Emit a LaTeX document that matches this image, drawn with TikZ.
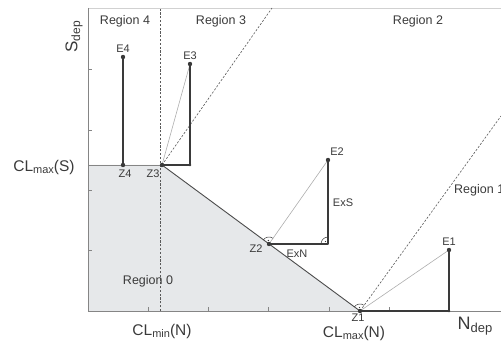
\documentclass[tikz,border=0pt]{standalone}
\usepackage{fontspec}
\setmainfont{Liberation Sans}
\definecolor{txt}{HTML}{3A3A3A}
\definecolor{fillg}{HTML}{E6E8EA}
\definecolor{thinc}{HTML}{ADADAD}
\definecolor{axisc}{HTML}{858585}
\newcommand{\lsub}[2]{\raisebox{-0.3ex}{\fontsize{#1}{#1}\selectfont #2}}
\begin{document}
\begin{tikzpicture}[x=1pt,y=1pt,
  lbl/.style={text=txt, inner sep=0pt, font=\fontsize{11}{11}\selectfont},
  reg/.style={text=txt, inner sep=0pt, font=\fontsize{12.5}{12.5}\selectfont},
  big/.style={text=txt, inner sep=0pt, font=\fontsize{15.5}{15.5}\selectfont},
  vec/.style={draw=txt, line width=1.4pt, line cap=round, line join=round},
  proj/.style={draw=thinc, line width=0.6pt},
  bound/.style={draw=black!65, dash pattern=on 2.2pt off 1.6pt, line width=0.6pt},
  ramark/.style={draw=txt, line width=0.5pt}]
\useasboundingbox (0,0) rectangle (501,347);
% coordinates
\coordinate (O) at (88,36);
\coordinate (Ytop) at (88,339);
\coordinate (Xend) at (501,36);
\coordinate (Tend) at (501,339);
\coordinate (SL) at (88,182);
\coordinate (Z4) at (123,182);
\coordinate (Z3) at (162,182);
\coordinate (Z2) at (269,103);
\coordinate (Z1) at (360,36);
\coordinate (E4) at (123,290);
\coordinate (E3) at (190,283);
\coordinate (F3) at (190,182);
\coordinate (E2) at (328,187);
\coordinate (C2) at (328,103);
\coordinate (E1) at (449,97);
\coordinate (F1) at (449,36);
\coordinate (DB) at (160,36);
\coordinate (DT) at (160,339);
\coordinate (B3) at (272,339);
\coordinate (B1) at (501,231);
% region 0
\fill[fillg] (O) -- (SL) -- (Z3) -- (Z1) -- cycle;
\draw[axisc, line width=0.7pt] (SL) -- (Z3);
\draw[black!70, line width=0.9pt] (Z3) -- (Z1);
% frame
\draw[black!18, line width=0.8pt] (Ytop) -- (Tend);
\draw[axisc, line width=0.8pt] (Ytop) -- (O) -- (Xend);
\foreach \yy in {97,157,217,278} \draw[axisc, line width=0.6pt] (88,\yy) -- (92,\yy);
\foreach \xx in {148,208,268,329,389} \draw[axisc, line width=0.6pt] (\xx,36) -- (\xx,40);
% boundaries
\draw[bound] (DB) -- (DT);
\draw[bound] (Z3) -- (B3);
\begin{scope}
\clip (0,0) rectangle (501,347);
\draw[bound] (Z1) -- (B1);
\end{scope}
% projections
\draw[proj] (E3) -- (Z3);
\draw[proj] (E2) -- (Z2);
\draw[proj] (E1) -- (Z1);
% vectors
\draw[vec] (E4) -- (Z4);
\draw[vec] (E3) -- (F3) -- (Z3);
\draw[vec] (Z2) -- (C2) -- (E2);
\draw[vec] (Z1) -- (F1) -- (E1);
% right angle marks
\draw[ramark] ([shift={(55:7)}]Z2) arc[start angle=55, end angle=144, radius=7];
\fill[txt] ([shift={(100:3.5)}]Z2) circle (0.7);
\draw[ramark] ([shift={(90:7)}]C2) arc[start angle=90, end angle=180, radius=7];
\fill[txt] ([shift={(135:3.5)}]C2) circle (0.7);
\draw[ramark] ([shift={(54:7)}]Z1) arc[start angle=54, end angle=144, radius=7];
\fill[txt] ([shift={(99:3.5)}]Z1) circle (0.7);
% points
\foreach \p in {Z4,Z3,Z2,Z1,E4,E3,E2,E1} \fill[txt] (\p) circle (2.2);
\foreach \p in {F3,F1} \fill[txt] (\p) circle (1.3);
% labels
\node[lbl] (lE4) at (123,298) {E4};
\node[lbl] (lE3) at (190,291) {E3};
\node[lbl] (lE2) at (337,195) {E2};
\node[lbl] (lE1) at (449,105) {E1};
\node[lbl] (lZ4) at (125,173) {Z4};
\node[lbl] (lZ3) at (153,173) {Z3};
\node[lbl] (lZ2) at (256,98) {Z2};
\node[lbl] (lZ1) at (358,29) {Z1};
\node[lbl] (lExN) at (297,93) {ExN};
\node[lbl] (lExS) at (343,144) {ExS};
\node[reg] (r4) at (125,326) {Region 4};
\node[reg] (r3) at (221,326) {Region 3};
\node[reg] (r2) at (418,326) {Region 2};
\node[reg] (r0) at (148,66) {Region 0};
\begin{scope}
\clip (0,0) rectangle (501,347);
\node[reg, anchor=west] (r1) at (454,157) {Region 1};
\end{scope}
\node[big] (clS) at (44,180) {CL\lsub{11}{max}(S)};
\node[big] (clminN) at (162,16) {CL\lsub{11}{min}(N)};
\node[big] (clmaxN) at (354,14) {CL\lsub{11}{max}(N)};
\node[big, font=\fontsize{18}{18}\selectfont] (Ndep) at (475,21) {N\lsub{13}{dep}};
\node[big, rotate=90, font=\fontsize{17}{17}\selectfont] (Sdep) at (74,310) {S\lsub{12}{dep}};
\end{tikzpicture}
\end{document}
